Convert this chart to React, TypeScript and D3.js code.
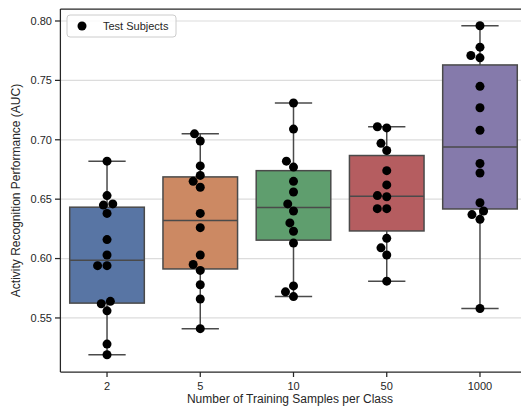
import React from "react";
import * as d3 from "d3";

// training samples per class
const categories = ["2", "5", "10", "50", "1000"];
const colors = ["#5875a4", "#cc8963", "#5f9e6e", "#b55d60", "#857aab"];

// AUC per test subject, one list per category
const auc2 = [0.682, 0.653, 0.646, 0.645, 0.638, 0.616, 0.603, 0.594, 0.594, 0.562, 0.564, 0.556, 0.528, 0.519];
const auc5 = [0.705, 0.699, 0.678, 0.670, 0.665, 0.660, 0.638, 0.626, 0.603, 0.595, 0.590, 0.578, 0.566, 0.541];
const auc10 = [0.731, 0.709, 0.682, 0.677, 0.665, 0.656, 0.646, 0.640, 0.630, 0.623, 0.613, 0.577, 0.572, 0.568];
const auc50 = [0.711, 0.710, 0.697, 0.691, 0.674, 0.662, 0.653, 0.652, 0.642, 0.642, 0.617, 0.609, 0.603, 0.581];
const auc1000 = [0.796, 0.778, 0.771, 0.769, 0.745, 0.727, 0.708, 0.680, 0.672, 0.647, 0.640, 0.637, 0.633, 0.558];
const groups = [auc2, auc5, auc10, auc50, auc1000];

const yTicks = [0.55, 0.6, 0.65, 0.7, 0.75, 0.8];

const W = 521, H = 410;
const R = 4.5;

// seaborn-like beeswarm, works in pixel space
function swarm(ys: number[], mid: number) {
  const order = ys.map((y, i) => i).sort((a, b) => ys[b] - ys[a]); // bottom (largest px) first
  const placed: { x: number; y: number; i: number }[] = [];
  const d = 2 * R;
  for (const i of order) {
    const yi = ys[i];
    const nb: { x: number; y: number }[] = [];
    for (let k = placed.length - 1; k >= 0; k--) {
      if (Math.abs(placed[k].y - yi) < d) nb.unshift(placed[k]);
      else break;
    }
    const cands: number[] = [mid];
    let leftFirst = true;
    for (const n of nb) {
      const dy = yi - n.y;
      const dx = Math.sqrt(Math.max(d * d - dy * dy, 0)) * 1.05;
      if (leftFirst) cands.push(n.x - dx, n.x + dx);
      else cands.push(n.x + dx, n.x - dx);
      leftFirst = !leftFirst;
    }
    const sorted = cands
      .map((x, k) => ({ x, k }))
      .sort((a, b) => Math.abs(a.x - mid) - Math.abs(b.x - mid) || a.k - b.k);
    let xi = mid;
    for (const c of sorted) {
      const ok = nb.every((n) => Math.hypot(n.x - c.x, n.y - yi) >= d - 0.01);
      if (ok) { xi = c.x; break; }
    }
    placed.push({ x: xi, y: yi, i });
  }
  return placed;
}

export default function App() {
  const x = d3.scaleBand().domain(categories).range([60.4, 526.6]).padding(0);
  const y = d3.scaleLinear().domain([0.5045, 0.8101]).range([372, 9]);
  const bw = x.bandwidth() * 0.8;
  const font = "'Liberation Sans', Arial, sans-serif";
  const txt = "#262626";
  const line = "#4a4a4a";

  return (
    <svg width={W} height={H} style={{ position: "absolute", left: 0, top: 0 }} fontFamily={font}>
      <rect width={W} height={H} fill="#fff" />
      {yTicks.map((t) => (
        <line key={"g" + t} x1={60.4} x2={526.6} y1={y(t)} y2={y(t)} stroke="#dcdcdc" strokeWidth={1.2} />
      ))}
      {groups.map((vals, gi) => {
        const cx = x(categories[gi])! + x.bandwidth() / 2;
        const s = vals.slice().sort(d3.ascending);
        const q1 = d3.quantile(s, 0.25)!;
        const q2 = d3.quantile(s, 0.5)!;
        const q3 = d3.quantile(s, 0.75)!;
        const iqr = q3 - q1;
        const lo = d3.min(s.filter((v) => v >= q1 - 1.5 * iqr))!;
        const hi = d3.max(s.filter((v) => v <= q3 + 1.5 * iqr))!;
        return (
          <g key={"b" + gi}>
            <line x1={cx} x2={cx} y1={y(hi)} y2={y(q3)} stroke={line} strokeWidth={1.5} />
            <line x1={cx} x2={cx} y1={y(q1)} y2={y(lo)} stroke={line} strokeWidth={1.5} />
            <line x1={cx - bw / 4} x2={cx + bw / 4} y1={y(hi)} y2={y(hi)} stroke={line} strokeWidth={1.5} />
            <line x1={cx - bw / 4} x2={cx + bw / 4} y1={y(lo)} y2={y(lo)} stroke={line} strokeWidth={1.5} />
            <rect x={cx - bw / 2} y={y(q3)} width={bw} height={y(q1) - y(q3)} fill={colors[gi]} stroke={line} strokeWidth={1.5} />
            <line x1={cx - bw / 2} x2={cx + bw / 2} y1={y(q2)} y2={y(q2)} stroke={line} strokeWidth={1.5} />
          </g>
        );
      })}
      {groups.map((vals, gi) => {
        const cx = x(categories[gi])! + x.bandwidth() / 2;
        const pts = swarm(vals.map((v) => y(v)), cx);
        return (
          <g key={"p" + gi}>
            {pts.map((p) => (
              <circle key={p.i} cx={p.x} cy={p.y} r={R} fill="#000" />
            ))}
          </g>
        );
      })}
      {/* spines */}
      <line x1={60.4} x2={60.4} y1={9} y2={372} stroke={txt} strokeWidth={1.25} />
      <line x1={60.4} x2={W} y1={372} y2={372} stroke={txt} strokeWidth={1.25} />
      <line x1={60.4} x2={W} y1={9} y2={9} stroke={txt} strokeWidth={1.25} />
      {yTicks.map((t) => (
        <g key={"yt" + t}>
          <line x1={55} x2={60.4} y1={y(t)} y2={y(t)} stroke={txt} strokeWidth={1.25} />
          <text x={52} y={y(t)} dy="0.35em" textAnchor="end" fontSize={11} fill={txt}>
            {t.toFixed(2)}
          </text>
        </g>
      ))}
      {categories.map((c) => {
        const cx = x(c)! + x.bandwidth() / 2;
        return (
          <g key={"xt" + c}>
            <line x1={cx} x2={cx} y1={372} y2={377} stroke={txt} strokeWidth={1.25} />
            <text x={cx} y={390} textAnchor="middle" fontSize={11} fill={txt}>
              {c}
            </text>
          </g>
        );
      })}
      <text x={290} y={403} textAnchor="middle" fontSize={12} fill={txt}>
        Number of Training Samples per Class
      </text>
      <text transform={`translate(20,${(9 + 372) / 2}) rotate(-90)`} textAnchor="middle" fontSize={12} fill={txt}>
        Activity Recognition Performance (AUC)
      </text>
      {/* legend */}
      <rect x={67} y={15} width={109} height={22} rx={3} fill="#fff" fillOpacity={0.8} stroke="#cccccc" />
      <circle cx={82} cy={26} r={R} fill="#000" />
      <text x={103} y={30} fontSize={11} fill={txt}>
        Test Subjects
      </text>
    </svg>
  );
}
